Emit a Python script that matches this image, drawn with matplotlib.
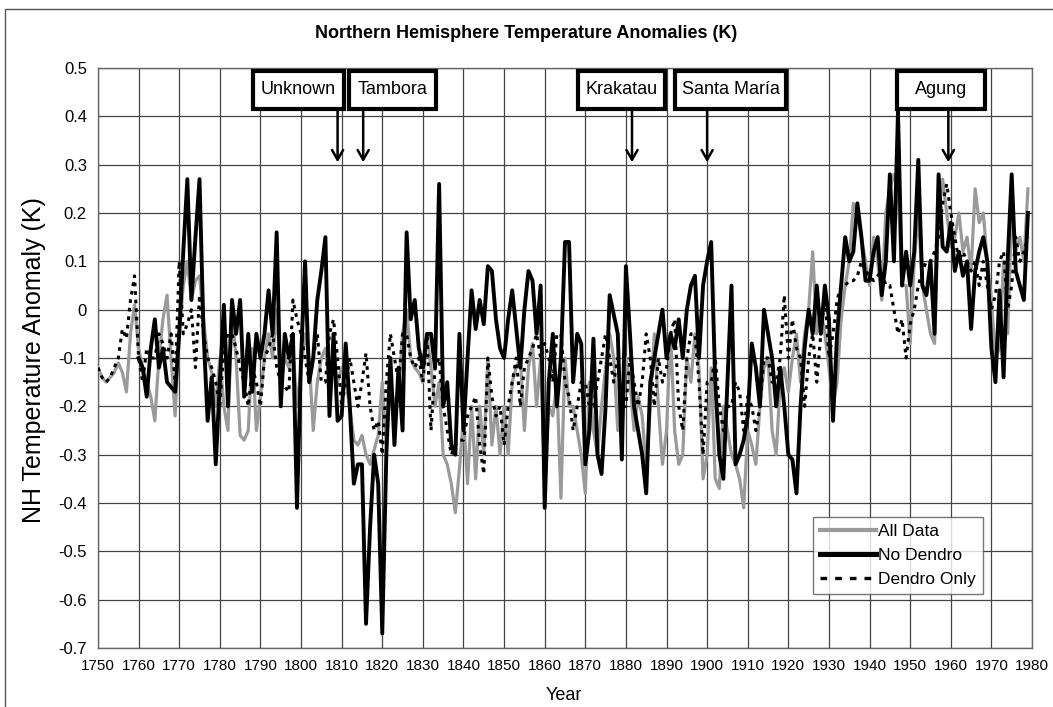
import numpy as np
import matplotlib
matplotlib.use("Agg")
import matplotlib.pyplot as plt
from matplotlib.patches import Rectangle

# ---------------- data ----------------
years_all = list(range(1750, 1980))
years_nd = list(range(1760, 1980))

all_data = (
    [-0.12, -0.14, -0.15, -0.14, -0.13, -0.11, -0.13, -0.17, -0.05, 0.01] +   # 1750s
    [-0.08, -0.12, -0.15, -0.18, -0.23, -0.10, -0.02, 0.03, -0.10, -0.22] +   # 1760s
    [-0.05, 0.05, 0.10, 0.02, 0.06, 0.07, -0.02, -0.10, -0.13, -0.20] +      # 1770s
    [-0.10, -0.20, -0.25, 0.00, -0.10, -0.26, -0.27, -0.25, -0.08, -0.25] +  # 1780s
    [-0.18, -0.10, -0.05, -0.10, 0.00, -0.15, -0.10, -0.12, -0.08, -0.20] +  # 1790s
    [-0.12, -0.05, -0.10, -0.25, -0.15, -0.10, -0.08, -0.15, -0.10, -0.15] + # 1800s
    [-0.12, -0.15, -0.20, -0.27, -0.28, -0.26, -0.30, -0.32, -0.29, -0.26] + # 1810s
    [-0.15, -0.28, -0.15, -0.20, -0.18, -0.05, 0.00, -0.10, -0.12, -0.13] +  # 1820s
    [-0.15, -0.05, -0.12, -0.20, -0.15, -0.30, -0.32, -0.36, -0.42, -0.33] + # 1830s
    [-0.22, -0.36, -0.20, -0.35, -0.20, -0.30, -0.10, -0.28, -0.20, -0.30] + # 1840s
    [-0.20, -0.30, -0.15, -0.12, -0.10, -0.25, -0.12, -0.07, -0.20, -0.10] + # 1850s
    [-0.35, -0.20, -0.22, -0.15, -0.39, -0.10, -0.20, -0.20, -0.25, -0.30] + # 1860s
    [-0.38, -0.15, -0.25, -0.30, -0.20, -0.12, -0.05, -0.10, -0.25, -0.25] + # 1870s
    [-0.10, -0.15, -0.25, -0.18, -0.22, -0.33, -0.20, -0.05, -0.20, -0.32] + # 1880s
    [-0.25, -0.05, -0.25, -0.32, -0.30, -0.10, -0.15, -0.05, -0.12, -0.35] + # 1890s
    [-0.30, -0.12, -0.35, -0.37, -0.20, -0.25, -0.30, -0.32, -0.35, -0.41] + # 1900s
    [-0.25, -0.28, -0.32, -0.20, -0.12, -0.10, -0.25, -0.30, -0.15, -0.12] + # 1910s
    [-0.17, -0.10, -0.05, -0.15, -0.05, 0.00, 0.12, -0.05, 0.00, -0.05] +    # 1920s
    [-0.12, -0.20, -0.15, -0.02, 0.05, 0.10, 0.22, 0.20, 0.15, 0.10] +       # 1930s
    [0.05, 0.15, 0.10, 0.02, 0.20, 0.25, 0.28, 0.25, 0.05, 0.05] +           # 1940s
    [-0.07, 0.10, 0.20, 0.05, 0.00, -0.05, -0.07, 0.20, 0.27, 0.20] +        # 1950s
    [0.13, 0.15, 0.20, 0.12, 0.15, 0.08, 0.25, 0.18, 0.20, 0.10] +           # 1960s
    [0.02, -0.10, -0.08, 0.10, -0.05, 0.20, 0.12, 0.15, 0.10, 0.25]          # 1970s
)

no_dendro = (
    [-0.10, -0.12, -0.18, -0.08, -0.02, -0.12, -0.08, -0.15, -0.16, -0.17] + # 1760s
    [-0.05, 0.12, 0.27, 0.02, 0.15, 0.27, -0.05, -0.23, -0.14, -0.32] +      # 1770s
    [-0.15, 0.01, -0.20, 0.02, -0.05, 0.02, -0.18, -0.05, -0.17, -0.05] +    # 1780s
    [-0.10, -0.05, 0.04, -0.05, 0.16, -0.20, -0.05, -0.10, -0.05, -0.41] +   # 1790s
    [-0.10, 0.10, -0.15, -0.10, 0.02, 0.08, 0.15, -0.22, -0.05, -0.23] +     # 1800s
    [-0.22, -0.07, -0.20, -0.36, -0.32, -0.32, -0.65, -0.45, -0.30, -0.36] + # 1810s
    [-0.67, -0.30, -0.10, -0.28, -0.12, -0.25, 0.16, -0.02, 0.02, -0.08] +   # 1820s
    [-0.12, -0.05, -0.05, -0.12, 0.26, -0.20, -0.15, -0.28, -0.30, -0.05] +  # 1830s
    [-0.25, -0.10, 0.04, -0.04, 0.02, -0.03, 0.09, 0.08, -0.02, -0.08] +     # 1840s
    [-0.10, -0.02, 0.04, -0.04, -0.12, 0.00, 0.08, 0.06, -0.05, 0.05] +      # 1850s
    [-0.41, -0.15, -0.05, -0.20, -0.10, 0.14, 0.14, -0.15, -0.05, -0.07] +   # 1860s
    [-0.32, -0.25, -0.06, -0.30, -0.34, -0.20, 0.03, -0.01, -0.05, -0.31] +  # 1870s
    [0.09, -0.05, -0.20, -0.25, -0.30, -0.38, -0.15, -0.10, -0.05, 0.00] +   # 1880s
    [-0.10, -0.05, -0.08, -0.02, -0.10, 0.00, 0.05, 0.07, -0.10, 0.05] +     # 1890s
    [0.10, 0.14, -0.15, -0.30, -0.35, -0.15, 0.05, -0.32, -0.30, -0.27] +    # 1900s
    [-0.22, -0.07, -0.12, -0.20, 0.00, -0.05, -0.10, -0.20, -0.12, -0.20] +  # 1910s
    [-0.30, -0.31, -0.38, -0.20, -0.08, 0.00, -0.05, 0.05, -0.05, 0.05] +    # 1920s
    [-0.02, -0.23, -0.05, 0.05, 0.15, 0.10, 0.12, 0.22, 0.15, 0.06] +        # 1930s
    [0.06, 0.12, 0.15, 0.03, 0.10, 0.28, 0.10, 0.41, 0.05, 0.12] +           # 1940s
    [0.05, 0.12, 0.31, 0.05, 0.03, 0.10, -0.05, 0.28, 0.13, 0.12] +          # 1950s
    [0.18, 0.08, 0.12, 0.07, 0.10, -0.04, 0.08, 0.12, 0.15, 0.10] +          # 1960s
    [-0.08, -0.15, 0.04, -0.14, 0.10, 0.28, 0.08, 0.05, 0.02, 0.20]          # 1970s
)

dendro_only = (
    [-0.12, -0.14, -0.15, -0.14, -0.12, -0.10, -0.04, -0.06, 0.02, 0.07] +   # 1750s
    [-0.10, -0.15, -0.08, -0.10, -0.10, -0.05, -0.07, -0.10, -0.05, -0.15] + # 1760s
    [0.10, -0.05, -0.03, 0.00, -0.12, 0.03, -0.05, -0.10, -0.12, -0.15] +    # 1770s
    [-0.20, -0.08, -0.05, -0.05, -0.08, -0.12, -0.15, -0.20, -0.12, -0.15] + # 1780s
    [-0.20, -0.10, -0.08, -0.05, -0.12, -0.15, -0.16, -0.17, 0.02, -0.02] +  # 1790s
    [-0.05, -0.10, -0.15, -0.10, -0.05, -0.15, -0.15, -0.05, -0.02, -0.10] + # 1800s
    [-0.20, -0.15, -0.10, -0.15, -0.20, -0.15, -0.09, -0.20, -0.25, -0.23] + # 1810s
    [-0.30, -0.15, -0.05, -0.10, -0.15, -0.05, -0.05, -0.10, -0.12, -0.10] + # 1820s
    [-0.15, -0.05, -0.25, -0.12, -0.10, -0.20, -0.25, -0.30, -0.28, -0.27] + # 1830s
    [-0.27, -0.22, -0.20, -0.18, -0.28, -0.34, -0.10, -0.18, -0.22, -0.20] + # 1840s
    [-0.28, -0.20, -0.15, -0.10, -0.20, -0.12, -0.10, -0.08, -0.05, -0.10] + # 1850s
    [-0.07, -0.10, -0.15, -0.05, -0.05, -0.15, -0.18, -0.25, -0.20, -0.15] + # 1860s
    [-0.15, -0.20, -0.20, -0.15, -0.10, -0.05, -0.10, -0.15, -0.10, -0.20] + # 1870s
    [-0.20, -0.10, -0.15, -0.20, -0.15, -0.05, -0.10, -0.20, -0.10, -0.15] + # 1880s
    [-0.12, -0.05, -0.02, -0.20, -0.25, -0.10, -0.05, -0.05, -0.15, -0.30] + # 1890s
    [-0.15, -0.15, -0.10, -0.20, -0.25, -0.20, -0.20, -0.15, -0.17, -0.25] + # 1900s
    [-0.18, -0.20, -0.25, -0.20, -0.10, -0.10, -0.15, -0.15, -0.10, 0.03] +  # 1910s
    [-0.10, -0.02, -0.08, -0.10, -0.20, -0.10, -0.05, -0.15, -0.05, 0.03] +  # 1920s
    [-0.10, -0.05, 0.02, 0.05, 0.05, 0.06, 0.06, 0.07, 0.10, 0.08] +         # 1930s
    [0.07, 0.06, 0.07, 0.08, 0.05, 0.05, 0.00, -0.05, -0.02, -0.10] +        # 1940s
    [-0.03, 0.00, 0.05, 0.08, 0.10, 0.10, 0.12, 0.15, 0.22, 0.26] +          # 1950s
    [0.20, 0.15, 0.10, 0.12, 0.10, 0.08, 0.10, 0.05, 0.10, 0.05] +           # 1960s
    [0.00, 0.03, 0.10, 0.12, 0.00, 0.05, 0.15, 0.10, 0.12, 0.15]             # 1970s
)

x_ticks = list(range(1750, 1981, 10))
y_ticks = [0.5, 0.4, 0.3, 0.2, 0.1, 0.0, -0.1, -0.2, -0.3, -0.4, -0.5, -0.6, -0.7]
y_tick_labels = ["0.5", "0.4", "0.3", "0.2", "0.1", "0", "-0.1", "-0.2", "-0.3",
                 "-0.4", "-0.5", "-0.6", "-0.7"]

eruption_names = ["Unknown", "Tambora", "Krakatau", "Santa María", "Agung"]
eruption_years = [1809, 1815.3, 1881.5, 1900, 1959.4]
box_left = [1788.2, 1811.8, 1868.2, 1892.1, 1946.8]
box_right = [1810.6, 1833.2, 1889.6, 1919.4, 1968.4]
box_bottom, box_top = 0.415, 0.494

# ---------------- figure ----------------
W, H = 1053, 707
fig = plt.figure(figsize=(W / 100, H / 100), dpi=100)
fig.patch.set_facecolor("white")

REG = ["Liberation Sans", "DejaVu Sans"]

# outer chart-area frame (top and left visible)
fig.add_artist(Rectangle((5 / W, -0.1), 1.2, 1 - 9 / H + 0.1,
                         transform=fig.transFigure, fill=False,
                         edgecolor="#555555", lw=1.0))

ax = fig.add_axes([98 / W, 1 - 648 / H, (1032 - 98) / W, (648 - 68) / H])
ax.set_xlim(1750, 1980)
ax.set_ylim(-0.7, 0.5)

ax.set_xticks(x_ticks)
ax.set_xticklabels([str(t) for t in x_ticks], fontfamily=REG, fontsize=11)
ax.set_yticks(y_ticks)
ax.set_yticklabels(y_tick_labels, fontfamily=REG, fontsize=12)
ax.tick_params(axis="y", length=0, pad=8)
ax.tick_params(axis="x", length=0, pad=8)
ax.grid(True, color="#444444", lw=0.9)
ax.set_axisbelow(True)
for s in ax.spines.values():
    s.set_color("#666666")
    s.set_linewidth(1.0)

ax.plot(years_all, all_data, color="#9a9a9a", lw=2.3, label="All Data",
        solid_joinstyle="round", zorder=3)
ax.plot(years_nd, no_dendro, color="black", lw=2.8, label="No Dendro",
        solid_joinstyle="round", zorder=4)
ax.plot(years_all, dendro_only, color="black", lw=2.2, ls=(0, (1.2, 1.6)),
        label="Dendro Only", zorder=5)

# eruption labels and arrows
for name, yr, x0, x1 in zip(eruption_names, eruption_years, box_left, box_right):
    ax.add_patch(Rectangle((x0, box_bottom), x1 - x0, box_top - box_bottom,
                           fc="white", ec="black", lw=3, zorder=7,
                           clip_on=False))
    ax.text((x0 + x1) / 2, (box_bottom + box_top) / 2 + 0.002, name,
            ha="center", va="center", fontsize=13, fontfamily=REG, zorder=8)
    ax.annotate("", xy=(yr, 0.305), xytext=(yr, box_bottom),
                arrowprops=dict(arrowstyle="->,head_length=0.7,head_width=0.4",
                                color="black", lw=1.8, shrinkA=0, shrinkB=0),
                zorder=6)

h_all, = ax.plot([], [], color="#9a9a9a", lw=3.0)
h_nd, = ax.plot([], [], color="black", lw=3.6)
h_do, = ax.plot([], [], color="black", lw=2.4, ls=(0, (2.0, 2.4)))
leg = ax.legend([h_all, h_nd, h_do], ["All Data", "No Dendro", "Dendro Only"],
                loc="lower right", bbox_to_anchor=(983 / W, 1 - 594 / H),
                bbox_transform=fig.transFigure, frameon=True, fancybox=False,
                prop={"family": REG, "size": 12.5}, handlelength=3.2,
                handletextpad=0.15, borderpad=0.4, labelspacing=0.5,
                borderaxespad=0)
leg.get_frame().set_edgecolor("#555555")
leg.get_frame().set_linewidth(1.0)

fig.text(526 / W, 1 - 33 / H, "Northern Hemisphere Temperature Anomalies (K)",
         ha="center", va="center", fontsize=13, fontweight="bold",
         fontfamily=REG)
fig.text(34 / W, 1 - 360 / H, "NH Temperature Anomaly (K)", rotation=90,
         ha="center", va="center", fontsize=18, fontfamily=REG)
fig.text(564 / W, 1 - 695 / H, "Year", ha="center", va="center",
         fontsize=13, fontfamily=REG)

fig.savefig("out.png", dpi=100)
